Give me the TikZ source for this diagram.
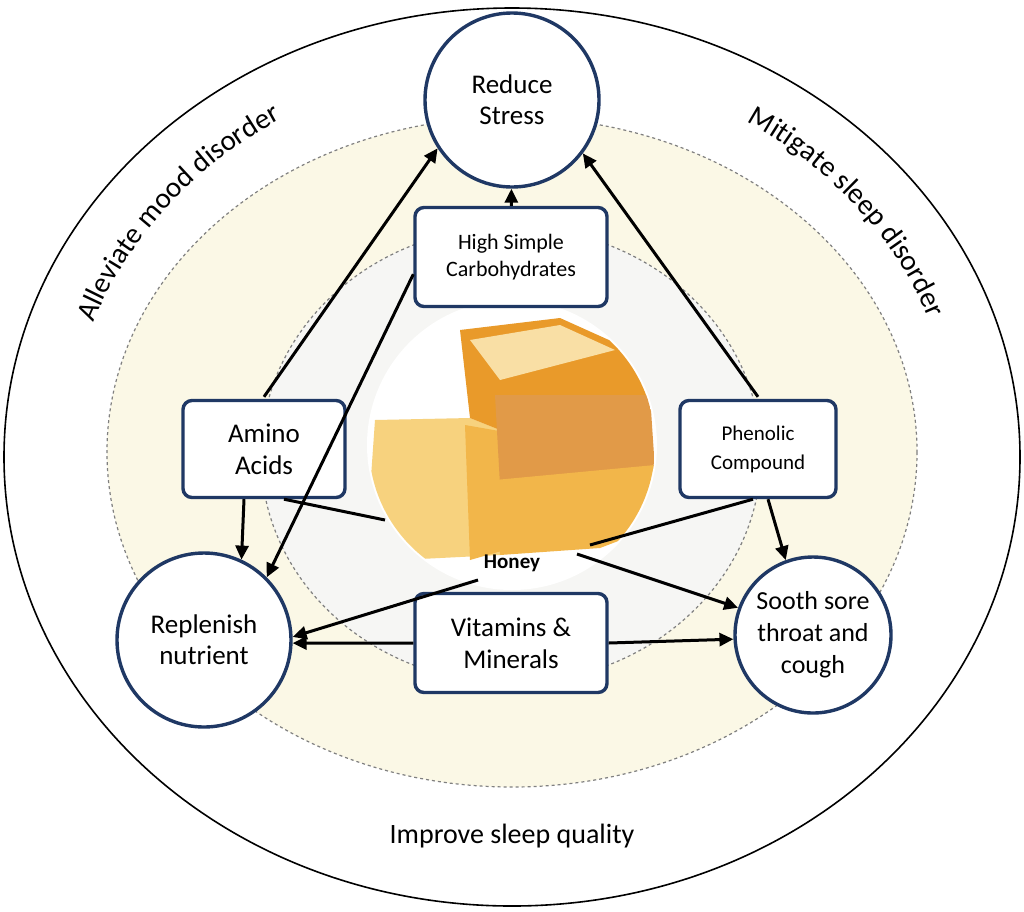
\documentclass[tikz,border=0pt]{standalone}
\usepackage{fontspec}
\setmainfont{Carlito}
\usetikzlibrary{arrows.meta,decorations.text}
\definecolor{navy}{HTML}{1F3864}
\definecolor{cream}{HTML}{FBF8E6}
\definecolor{pale}{HTML}{F6F6F4}
\definecolor{hon1}{HTML}{F2B64A}
\definecolor{hon2}{HTML}{E99A2A}
\definecolor{hon3}{HTML}{F7D27E}
\definecolor{hon4}{HTML}{D9801A}
\begin{document}
\begin{tikzpicture}[x=1pt,y=-1pt,
 goal/.style={circle,draw=navy,line width=3.4pt,fill=white,align=center,font=\fontsize{27}{31}\selectfont,inner sep=0pt},
 comp/.style={rectangle,rounded corners=9pt,draw=navy,line width=3.4pt,fill=white,align=center},
 arr/.style={line width=3pt,-{Triangle[length=14pt,width=13pt]}},
 ln/.style={line width=3pt}]
\useasboundingbox (0,0) rectangle (1024,911);
\draw[line width=1.6pt,fill=white] (512,457) ellipse (508 and 449);
\draw[dashed,gray,line width=1.2pt,fill=cream] (512,452) ellipse (405 and 335);
\draw[dashed,gray,line width=1.2pt,fill=pale] (511,455) ellipse (250 and 228);
% honey picture
\fill[white] (512,445) circle (145);
\begin{scope}
\clip (512,445) circle (143);
\fill[hon3] (375,420) -- (470,418) -- (500,430) -- (500,555) -- (400,560) -- (368,520) -- cycle;
\fill[hon1] (465,425) -- (505,432) -- (505,550) -- (470,560) -- cycle;
\fill[hon2] (460,330) -- (560,318) -- (620,345) -- (655,400) -- (500,430) -- (470,418) -- cycle;
\fill[hon4!80] (495,395) -- (650,395) -- (655,470) -- (500,485) -- cycle;
\fill[hon1] (495,480) -- (655,465) -- (660,525) -- (600,548) -- (500,555) -- cycle;
\fill[hon3!70] (470,340) -- (560,325) -- (615,350) -- (500,380) -- cycle;
\end{scope}
\node[font=\bfseries\fontsize{21}{22}\selectfont] (honey) at (512,563) {Honey};
\coordinate (hA) at (385,520);
\coordinate (hP) at (590,545);
\coordinate (hS) at (577,554);
\coordinate (hR) at (478,580);
% goal circles
\node[goal,minimum size=174pt] (rs) at (512,100) {Reduce\\Stress};
\node[goal,minimum size=174pt] (rn) at (204,640) {Replenish\\nutrient};
\node[goal,minimum size=156pt,font=\fontsize{26}{32}\selectfont] (st) at (813,635) {Sooth sore\\throat and\\cough};
% components
\node[comp,minimum width=192pt,minimum height=99pt,font=\fontsize{22}{27}\selectfont] (hc) at (511,257) {High Simple\\Carbohydrates};
\node[comp,minimum width=162pt,minimum height=97pt,font=\fontsize{27}{32}\selectfont] (aa) at (264,449) {Amino\\Acids};
\node[comp,minimum width=156pt,minimum height=97pt,font=\fontsize{21}{29}\selectfont] (pc) at (758,449) {Phenolic\\Compound};
\node[comp,minimum width=192pt,minimum height=99pt,font=\fontsize{27}{32}\selectfont] (vm) at (511,643) {Vitamins \&\\Minerals};
% connectors
\draw[arr] (hc) -- (rs);
\draw[arr] (aa.north) ++(0,-2) -- (rs.213);
\draw[arr] (pc.north) ++(0,-2) -- (rs.-37);
\draw[arr] (hc.190) -- (rn.45);
\draw[arr] ([xshift=-20pt]aa.south) -- (rn.65);
\draw[arr] ([xshift=10pt]pc.south) -- (st.110);
\draw[ln] ([xshift=20pt]aa.south) -- (hA);
\draw[ln] ([xshift=-5pt]pc.south) -- (hP);
\draw[arr] (hS) -- (st.160);
\draw[arr] (hR) -- (rn.2);
\draw[arr] (vm.west) -- (rn.-2);
\draw[arr] (vm.east) -- (st.183);
% labels
\begin{scope}[y=1pt,yshift=-911pt]
\path[decorate,decoration={text along path,text align=center,text={|\fontsize{29}{32}\selectfont|Alleviate mood disorder}}]
 (512,454) ++(168:445 and 395) arc[start angle=168,end angle=114,x radius=445,y radius=395];
\path[decorate,decoration={text along path,text align=center,text={|\fontsize{29}{32}\selectfont|Mitigate sleep disorder}}]
 (512,454) ++(66:445 and 395) arc[start angle=66,end angle=12,x radius=445,y radius=395];
\end{scope}
\node[font=\fontsize{28}{30}\selectfont] (isq) at (512,836) {Improve sleep quality};
\end{tikzpicture}
\end{document}
